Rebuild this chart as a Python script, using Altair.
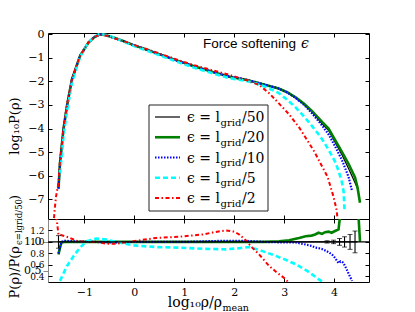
import altair as alt
import pandas as pd

# ---------------- data ----------------
SERIES = ["l50", "l20", "l10", "l5", "l2"]
DIVISORS = ["50", "20", "10", "5", "2"]
COLORS = ["#000000", "#008000", "#0000ff", "#00ffff", "#ff0000"]
WIDTHS = [1.2, 2.6, 2.2, 2.6, 2.0]
DASHES = [None, None, [1.5, 1.5], [5, 3], [4, 2.5, 1.5, 2.5]]

# top panel: log10 P(rho)
x_l50 = [-1.52, -1.49, -1.45, -1.42, -1.35, -1.25, -1.09, -0.92, -0.8, -0.69, -0.55, -0.42, -0.2, -0.03, 0.24, 0.44, 0.9, 1.2, 1.57, 1.9, 2.23, 2.43, 2.65, 2.89, 3.06, 3.23, 3.4, 3.56, 3.76, 3.89, 4.02, 4.16, 4.29, 4.42, 4.47]
y_l50 = [-6.45, -5.44, -4.65, -4.03, -3.04, -1.91, -0.92, -0.35, -0.12, 0.0, -0.05, -0.14, -0.3, -0.45, -0.65, -0.8, -1.15, -1.36, -1.6, -1.8, -1.93, -2.04, -2.16, -2.3, -2.47, -2.7, -2.98, -3.3, -3.8, -4.08, -4.58, -5.12, -5.7, -6.3, -6.55]

x_l20 = [-1.52, -1.49, -1.45, -1.42, -1.35, -1.25, -1.09, -0.92, -0.8, -0.69, -0.55, -0.42, -0.2, -0.03, 0.24, 0.44, 0.9, 1.2, 1.57, 1.9, 2.23, 2.43, 2.65, 2.89, 3.06, 3.23, 3.4, 3.56, 3.76, 3.89, 4.02, 4.16, 4.29, 4.42, 4.47, 4.52]
y_l20 = [-6.55, -5.47, -4.65, -4.03, -3.04, -1.91, -0.92, -0.35, -0.12, 0.0, -0.05, -0.14, -0.3, -0.45, -0.65, -0.8, -1.15, -1.36, -1.6, -1.8, -1.93, -2.04, -2.16, -2.3, -2.46, -2.68, -2.95, -3.26, -3.72, -4.0, -4.48, -5.0, -5.5, -6.08, -6.5, -7.15]

x_l10 = [-1.52, -1.49, -1.45, -1.42, -1.35, -1.25, -1.09, -0.92, -0.8, -0.69, -0.55, -0.42, -0.2, -0.03, 0.24, 0.44, 0.9, 1.2, 1.57, 1.9, 2.23, 2.43, 2.65, 2.89, 3.06, 3.23, 3.4, 3.56, 3.76, 3.89, 4.02, 4.16, 4.29, 4.36]
y_l10 = [-6.55, -5.46, -4.65, -4.03, -3.04, -1.91, -0.92, -0.35, -0.12, 0.0, -0.05, -0.14, -0.3, -0.45, -0.65, -0.8, -1.15, -1.36, -1.6, -1.79, -1.92, -2.03, -2.16, -2.3, -2.47, -2.7, -3.0, -3.36, -3.87, -4.25, -4.75, -5.35, -6.05, -6.65]

x_l5 = [-1.49, -1.45, -1.42, -1.35, -1.25, -1.09, -0.92, -0.8, -0.69, -0.55, -0.42, -0.2, -0.03, 0.24, 0.44, 0.9, 1.2, 1.57, 1.9, 2.23, 2.43, 2.65, 2.89, 3.06, 3.23, 3.36, 3.49, 3.63, 3.76, 3.89, 4.02, 4.09, 4.15, 4.19, 4.21]
y_l5 = [-5.9, -5.05, -4.33, -3.28, -2.05, -0.97, -0.35, -0.1, 0.02, -0.04, -0.14, -0.32, -0.48, -0.69, -0.84, -1.2, -1.42, -1.66, -1.86, -1.97, -2.08, -2.25, -2.49, -2.78, -3.1, -3.4, -3.72, -4.08, -4.45, -4.9, -5.4, -5.8, -6.2, -6.65, -7.45]

x_l2 = [-1.61, -1.59, -1.57, -1.52, -1.49, -1.45, -1.42, -1.35, -1.25, -1.09, -0.92, -0.8, -0.69, -0.55, -0.42, -0.2, -0.03, 0.24, 0.44, 0.9, 1.2, 1.57, 1.9, 2.1, 2.23, 2.5, 2.7, 2.89, 3.1, 3.3, 3.6, 3.87, 3.99, 4.05, 4.07]
y_l2 = [-7.8, -7.3, -6.9, -6.3, -5.4, -4.6, -4.0, -3.0, -1.9, -0.92, -0.35, -0.12, 0.0, -0.06, -0.16, -0.3, -0.44, -0.62, -0.77, -1.11, -1.31, -1.53, -1.72, -1.85, -1.93, -2.15, -2.5, -2.92, -3.4, -3.95, -4.96, -6.05, -6.9, -7.45, -7.84]

# bottom panel: P(rho) / P(rho_{eps=lgrid/50})
rx_l50 = [-1.52, 4.47]
r_l50 = [1.0, 1.0]

rx_l20 = [-1.52, -1.49, -1.46, -1.4, -1.0, 0.0, 1.0, 2.0, 2.6, 2.9, 3.1, 3.3, 3.43, 3.55, 3.62, 3.69, 3.76, 3.82, 3.89, 3.95, 4.02, 4.09, 4.12, 4.16, 4.3, 4.45, 4.49, 4.52]
r_l20 = [0.78, 0.9, 0.99, 1.0, 1.0, 1.0, 1.0, 1.0, 1.0, 1.01, 1.03, 1.07, 1.1, 1.11, 1.13, 1.16, 1.14, 1.17, 1.18, 1.16, 1.19, 1.22, 1.45, 1.6, 1.7, 1.6, 1.45, 1.0]

rx_l10 = [-1.52, -1.49, -1.46, -1.4, -1.2, -0.8, -0.4, 0.0, 0.5, 1.0, 1.4, 1.8, 2.2, 2.6, 3.0, 3.23, 3.4, 3.55, 3.63, 3.75, 3.85, 3.96, 4.02, 4.09, 4.13, 4.18, 4.22, 4.29, 4.36]
r_l10 = [0.8, 0.9, 1.0, 1.02, 1.01, 1.0, 0.99, 1.0, 1.0, 1.0, 1.01, 1.02, 1.02, 1.0, 0.99, 0.99, 0.96, 0.93, 0.9, 0.88, 0.84, 0.78, 0.72, 0.63, 0.66, 0.64, 0.58, 0.45, 0.32]

rx_l5 = [-1.49, -1.42, -1.35, -1.22, -1.09, -0.96, -0.76, -0.56, -0.36, -0.03, 0.44, 0.9, 1.37, 1.83, 2.1, 2.3, 2.5, 2.76, 3.0, 3.23, 3.45, 3.69, 3.8]
r_l5 = [0.32, 0.45, 0.58, 0.75, 0.9, 1.01, 1.06, 1.04, 1.0, 0.94, 0.91, 0.9, 0.88, 0.87, 0.89, 0.91, 0.86, 0.78, 0.7, 0.61, 0.5, 0.35, 0.28]

rx_l2 = [-1.61, -1.57, -1.52, -1.47, -1.32, -1.16, -0.96, -0.76, -0.56, -0.36, -0.1, 0.04, 0.44, 0.9, 1.37, 1.6, 1.83, 2.0, 2.1, 2.23, 2.36, 2.5, 2.7, 2.85, 3.03, 3.1]
r_l2 = [2.0, 1.5, 1.12, 1.12, 1.08, 1.02, 1.0, 1.0, 0.97, 0.97, 1.0, 1.02, 1.07, 1.09, 1.13, 1.17, 1.2, 1.18, 1.13, 1.03, 0.9, 0.78, 0.58, 0.47, 0.35, 0.28]

err_x = [-1.52, 3.86, 3.99, 4.11, 4.21, 4.32, 4.42]
err_e = [0.11, 0.02, 0.03, 0.06, 0.09, 0.13, 0.19]

X_TICKS = [-1, 0, 1, 2, 3, 4]
TOP_Y_TICKS = [0, -1, -2, -3, -4, -5, -6, -7]
BOT_Y_TICKS = [0.4, 0.6, 0.8, 1.0, 1.2]

X_DOMAIN = [-1.73, 4.7]
TOP_DOMAIN = [-7.84, 0.055]
BOT_DOMAIN = [0.3, 1.4]

# ---------------- tables ----------------
top_sets = [(x_l50, y_l50), (x_l20, y_l20), (x_l10, y_l10), (x_l5, y_l5), (x_l2, y_l2)]
bot_sets = [(rx_l50, r_l50), (rx_l20, r_l20), (rx_l10, r_l10), (rx_l5, r_l5), (rx_l2, r_l2)]

df_top = pd.concat([pd.DataFrame({"x": xs, "y": ys, "s": s}) for s, (xs, ys) in zip(SERIES, top_sets)], ignore_index=True)
df_bot = pd.concat([pd.DataFrame({"x": xs, "y": ys, "s": s}) for s, (xs, ys) in zip(SERIES, bot_sets)], ignore_index=True)
df_err = pd.DataFrame({"x": err_x, "e": err_e})
dummy = pd.DataFrame({"k": [0]})

W, HT, HB = 321, 186, 63
XS = alt.Scale(domain=X_DOMAIN, nice=False, zero=False)
YT = alt.Scale(domain=TOP_DOMAIN, nice=False, zero=False)
YB = alt.Scale(domain=BOT_DOMAIN, nice=False, zero=False)

SERIF = "DejaVu Serif"


def line_layers(df, ysc):
    out = []
    for i, s in enumerate(SERIES):
        kw = dict(clip=True, stroke=COLORS[i], strokeWidth=WIDTHS[i])
        if DASHES[i]:
            kw["strokeDash"] = DASHES[i]
        out.append(
            alt.Chart(df).transform_filter(alt.datum.s == s).mark_line(**kw).encode(
                x=alt.X("x:Q", scale=XS, axis=None),
                y=alt.Y("y:Q", scale=ysc, axis=None),
                order="x:Q",
            )
        )
    return out


def axis_layers(df, ysc, h, yvals, yfmt, xlabels, ylabsize):
    tick = dict(ticks=True, tickSize=4, tickWidth=1, tickColor="black", labels=False,
                domain=False, grid=False, title=None)
    pts = dict(size=0, opacity=0, clip=True)
    a = alt.Chart(df).mark_point(**pts).encode(
        x=alt.X("x:Q", scale=XS, axis=alt.Axis(orient="top", offset=-h, values=X_TICKS, **tick)),
        y=alt.Y("y:Q", scale=ysc, axis=alt.Axis(orient="left", values=yvals, format=yfmt, ticks=False,
                                                tickSize=0, labelPadding=4, domain=False, grid=False,
                                                title=None, labelFontSize=ylabsize)),
    )
    b = alt.Chart(df).mark_point(**pts).encode(
        x=alt.X("x:Q", scale=XS, axis=alt.Axis(orient="bottom", offset=-h, values=X_TICKS, **tick)),
        y=alt.Y("y:Q", scale=ysc, axis=alt.Axis(orient="right", offset=-W, values=yvals, **tick)),
    )
    c = alt.Chart(df).mark_point(**pts).encode(
        x=alt.X("x:Q", scale=XS, axis=alt.Axis(orient="bottom", values=X_TICKS, format="d", ticks=False,
                                                tickSize=0, labelPadding=4, domain=False, grid=False,
                                                title=None, labels=xlabels)),
        y=alt.Y("y:Q", scale=ysc, axis=alt.Axis(orient="left", offset=-W, values=yvals, **tick)),
    )
    return [a, b, c]


def txt(text, x, y, size, align="left", font=SERIF, angle=0, style="normal"):
    return alt.Chart(dummy).mark_text(
        text=text, fontSize=size, align=align, baseline="alphabetic",
        font=font, angle=angle, fontStyle=style, color="black",
    ).encode(x=alt.value(x), y=alt.value(y))


# ---------------- top panel ----------------
legend = [alt.Chart(dummy).mark_rect(fill="white", stroke="#222222", strokeWidth=1).encode(
    x=alt.value(101), x2=alt.value(220), y=alt.value(72), y2=alt.value(178))]
for i, s in enumerate(SERIES):
    ry = 84 + 20.25 * i
    kw = dict(stroke=COLORS[i], strokeWidth=WIDTHS[i])
    if DASHES[i]:
        kw["strokeDash"] = DASHES[i]
    legend.append(alt.Chart(dummy).mark_rule(**kw).encode(
        x=alt.value(107), x2=alt.value(132), y=alt.value(ry)))
    legend.append(txt("ϵ = l", 172, ry + 5, 14, align="right"))
    legend.append(txt("grid", 172.5, ry + 8.5, 10))
    legend.append(txt("/" + DIVISORS[i], 194, ry + 5, 14))

top_titles = [
    txt("Force softening", 155, 14.7, 13.5, font="Liberation Sans"),
    txt("ϵ", 253, 14.7, 14, style="italic"),
    txt("log₁₀P(ρ)", -29, 93, 13, align="center", angle=270),
]

top = alt.layer(
    *line_layers(df_top, YT), *legend, *top_titles,
    *axis_layers(df_top, YT, HT, TOP_Y_TICKS, "d", False, 11)
).resolve_axis(x="independent", y="independent").properties(width=W, height=HT)

# ---------------- bottom panel ----------------
unity = alt.Chart(dummy).mark_rule(color="black", strokeWidth=1.3).encode(y=alt.datum(1, scale=YB))
err_rules = alt.Chart(df_err).transform_calculate(lo="1 - datum.e", hi="1 + datum.e").mark_rule(
    color="black", strokeWidth=1.1, clip=True
).encode(x=alt.X("x:Q", scale=XS, axis=None), y=alt.Y("lo:Q", scale=YB, axis=None), y2="hi:Q")
err_lo = alt.Chart(df_err).transform_calculate(lo="1 - datum.e").mark_tick(
    orient="horizontal", size=5, thickness=1, color="black", clip=True
).encode(x=alt.X("x:Q", scale=XS, axis=None), y=alt.Y("lo:Q", scale=YB, axis=None))
err_hi = alt.Chart(df_err).transform_calculate(hi="1 + datum.e").mark_tick(
    orient="horizontal", size=5, thickness=1, color="black", clip=True
).encode(x=alt.X("x:Q", scale=XS, axis=None), y=alt.Y("hi:Q", scale=YB, axis=None))

bot_titles = [
    txt("log₁₀ρ/ρ", 174, 88, 14, align="right"),
    txt("mean", 174.5, 91.5, 9.5),
    txt("P(ρ)/P(ρ", -29, 27, 13, align="right", angle=270),
    txt("ϵ=lgrid/50", -26, 26, 8.5, align="left", angle=270),
    txt(")", -29, -19, 13, align="left", angle=270),
]

bottom = alt.layer(
    *line_layers(df_bot, YB), unity, err_rules, err_lo, err_hi, *bot_titles,
    *axis_layers(df_bot, YB, HB, BOT_Y_TICKS, ".1f", True, 9)
).resolve_axis(x="independent", y="independent").properties(width=W, height=HB)

chart = alt.vconcat(top, bottom, spacing=0, bounds="flush").configure_view(
    stroke="black", strokeWidth=1
).configure_axis(
    labelFont=SERIF, labelFontSize=11, labelColor="black"
).properties(padding={"left": 0, "top": 19, "right": 5, "bottom": 2})

chart.save("out.html", embed_options={"renderer": "svg", "actions": False})
